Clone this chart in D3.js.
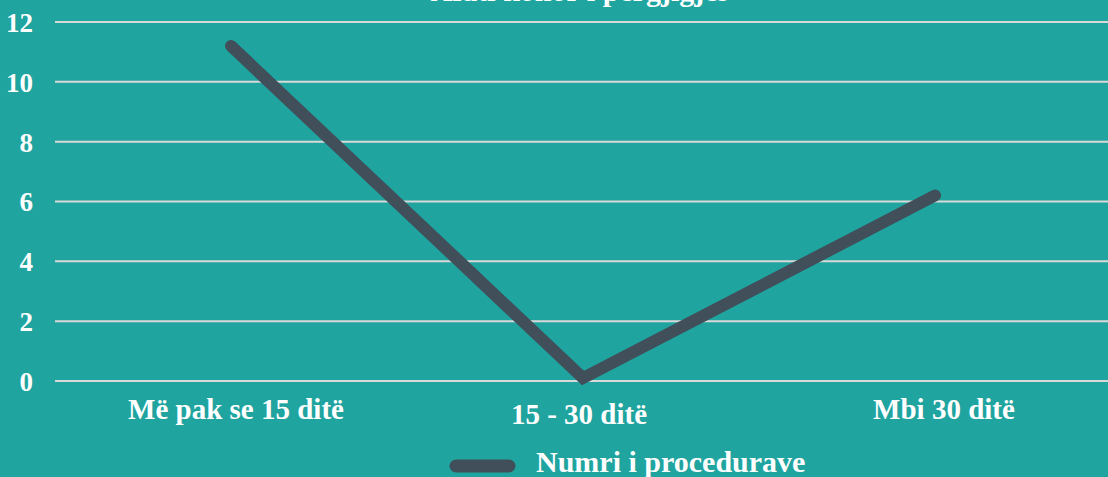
<!DOCTYPE html>
<html>
<head>
<meta charset="utf-8">
<script src="https://cdn.jsdelivr.net/npm/d3@7/dist/d3.min.js"></script>
<style>
  html, body { margin: 0; padding: 0; background: #20a4a0; overflow: hidden; }
  svg { display: block; font-family: "Liberation Serif", "DejaVu Serif", serif; font-weight: bold; }
</style>
</head>
<body>
<script>
// chart data
const categories = ["Më pak se 15 ditë", "15 - 30 ditë", "Mbi 30 ditë"];
const values = [11.2, 0.1, 6.2];
const yTicks = [0, 2, 4, 6, 8, 10, 12];
const seriesName = "Numri i procedurave";
const title = "Afati kohor i përgjigjes";

const width = 1108, height = 477;
const margin = { top: 22, right: -3, bottom: 96, left: 55 };

const svg = d3.select("body").append("svg")
  .attr("width", width)
  .attr("height", height);

// scales
const x = d3.scaleBand()
  .domain(categories)
  .range([margin.left, width - margin.right]);
const y = d3.scaleLinear()
  .domain([0, 12])
  .range([height - margin.bottom, margin.top]);

// title, clipped at top like the source
svg.append("text")
  .attr("x", 580)
  .attr("y", 1)
  .attr("text-anchor", "middle")
  .attr("fill", "#ffffff")
  .attr("font-size", 30)
  .text(title);

// gridlines
svg.append("g")
  .selectAll("line")
  .data(yTicks)
  .join("line")
  .attr("x1", margin.left)
  .attr("x2", width)
  .attr("y1", d => y(d))
  .attr("y2", d => y(d))
  .attr("stroke", "#d9d9d9")
  .attr("stroke-width", 2);

// y axis labels
const yAxis = d3.axisLeft(y).tickValues(yTicks).tickSize(0).tickPadding(0);
svg.append("g")
  .attr("transform", "translate(33,0)")
  .call(yAxis)
  .call(g => g.select(".domain").remove())
  .selectAll("text")
  .attr("fill", "#ffffff")
  .attr("font-size", 27)
  .attr("font-family", "Liberation Serif, serif")
  .attr("font-weight", "bold")
  .attr("dy", "0.35em");

// x axis labels
const labelY = [419, 424, 419];
const labelShift = [5, -4, 9];
svg.append("g")
  .selectAll("text")
  .data(categories)
  .join("text")
  .attr("x", (d, i) => x(d) + x.bandwidth() / 2 + labelShift[i])
  .attr("y", (d, i) => labelY[i])
  .attr("text-anchor", "middle")
  .attr("fill", "#ffffff")
  .attr("font-size", 29)
  .text(d => d);

// line
const line = d3.line()
  .x((d, i) => x(categories[i]) + x.bandwidth() / 2)
  .y(d => y(d));

svg.append("path")
  .datum(values)
  .attr("d", line)
  .attr("fill", "none")
  .attr("stroke", "#404f5a")
  .attr("stroke-width", 12)
  .attr("stroke-linecap", "round")
  .attr("stroke-linejoin", "miter");

// legend
const legend = svg.append("g").attr("transform", "translate(456,466)");
legend.append("line")
  .attr("x1", 0).attr("x2", 53)
  .attr("y1", 0).attr("y2", 0)
  .attr("stroke", "#404f5a")
  .attr("stroke-width", 13)
  .attr("stroke-linecap", "round");
legend.append("text")
  .attr("x", 80)
  .attr("y", 6)
  .attr("fill", "#ffffff")
  .attr("font-size", 30)
  .text(seriesName);
</script>
</body>
</html>
